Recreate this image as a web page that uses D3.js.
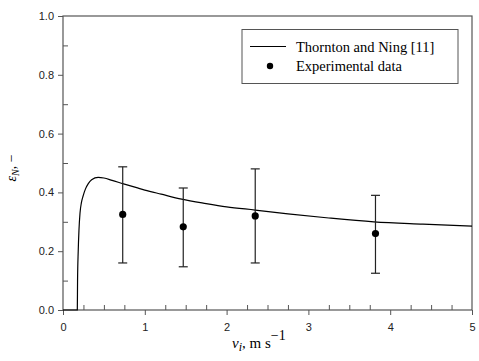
<!DOCTYPE html>
<html>
<head>
<meta charset="utf-8">
<script src="https://cdn.jsdelivr.net/npm/d3@7"></script>
<style>
  body { margin: 0; background: #fff; }
  .tick text { font-family: "Liberation Sans", Arial, sans-serif; font-size: 11px; fill: #222; }
</style>
</head>
<body>
<script>
// model curve (x = vi, y = eps_N)
var modelX = [0, 0.175, 0.178, 0.186, 0.195, 0.208, 0.225, 0.248, 0.275, 0.309, 0.35, 0.43, 0.5, 0.6, 0.74, 0.9, 1.0, 1.2, 1.45, 1.75, 2.0, 2.35, 2.75, 3.25, 3.8, 4.4, 5.0];
var modelY = [0, 0, 0.10, 0.20, 0.27, 0.33, 0.365, 0.39, 0.412, 0.43, 0.443, 0.451, 0.449, 0.441, 0.429, 0.416, 0.408, 0.394, 0.377, 0.362, 0.351, 0.340, 0.327, 0.313, 0.300, 0.292, 0.285];

// experimental points with error bars
var expX = [0.73, 1.47, 2.35, 3.82];
var expY = [0.325, 0.283, 0.32, 0.26];
var expLo = [0.16, 0.147, 0.16, 0.125];
var expHi = [0.487, 0.415, 0.48, 0.39];

var xTicks = [0, 1, 2, 3, 4, 5];
var yTicks = [0.0, 0.2, 0.4, 0.6, 0.8, 1.0];

var margin = {left: 63, top: 16, right: 7, bottom: 51},
    width = 479 - margin.left - margin.right,
    height = 361 - margin.top - margin.bottom;

var svg = d3.select("body").append("svg")
    .attr("width", 479)
    .attr("height", 361);

var g = svg.append("g")
    .attr("transform", "translate(" + margin.left + "," + margin.top + ")");

var x = d3.scaleLinear().domain([0, 5]).range([0, width]);
var y = d3.scaleLinear().domain([0, 1]).range([height, 0]);

var axisColor = "#555";

// minor ticks (inside)
g.append("g")
    .attr("transform", "translate(0," + height + ")")
    .call(d3.axisTop(x).tickValues(d3.range(0.25, 5, 0.25).filter(d => Math.abs(d % 1) > 0.01)).tickSize(5).tickFormat(""))
    .call(a => a.select(".domain").remove())
    .selectAll("line").attr("stroke", axisColor);
g.append("g")
    .call(d3.axisRight(y).tickValues(d3.range(0.1, 1, 0.2)).tickSize(5).tickFormat(""))
    .call(a => a.select(".domain").remove())
    .selectAll("line").attr("stroke", axisColor);

// major axes
var xa = g.append("g")
    .attr("transform", "translate(0," + height + ")")
    .call(d3.axisBottom(x).tickValues(xTicks).tickSize(5).tickPadding(8).tickFormat(d3.format("d")));
var ya = g.append("g")
    .call(d3.axisLeft(y).tickValues(yTicks).tickSize(5).tickPadding(4).tickFormat(d3.format(".1f")));
[xa, ya].forEach(function(a) {
    a.selectAll("line").attr("stroke", axisColor);
    a.select(".domain").remove();
});

// frame
g.append("rect")
    .attr("width", width).attr("height", height)
    .attr("fill", "none")
    .attr("stroke", axisColor)
    .attr("stroke-width", 1.2);

// model line
var line = d3.line()
    .x((d, i) => x(modelX[i]))
    .y((d, i) => y(modelY[i]))
    .curve(d3.curveMonotoneX);
g.append("path")
    .datum(modelX)
    .attr("d", line)
    .attr("fill", "none")
    .attr("stroke", "#000")
    .attr("stroke-width", 1.2);

// error bars
var bars = g.selectAll(".err")
    .data(expX)
    .enter().append("g")
    .attr("class", "err")
    .attr("stroke", "#222")
    .attr("stroke-width", 1.2);
bars.append("line")
    .attr("x1", d => x(d)).attr("x2", d => x(d))
    .attr("y1", (d, i) => y(expLo[i])).attr("y2", (d, i) => y(expHi[i]));
bars.append("line")
    .attr("x1", d => x(d) - 4.5).attr("x2", d => x(d) + 4.5)
    .attr("y1", (d, i) => y(expLo[i])).attr("y2", (d, i) => y(expLo[i]));
bars.append("line")
    .attr("x1", d => x(d) - 4.5).attr("x2", d => x(d) + 4.5)
    .attr("y1", (d, i) => y(expHi[i])).attr("y2", (d, i) => y(expHi[i]));

g.selectAll(".dot")
    .data(expX)
    .enter().append("circle")
    .attr("class", "dot")
    .attr("cx", d => x(d))
    .attr("cy", (d, i) => y(expY[i]))
    .attr("r", 3.6)
    .attr("fill", "#000");

// legend
var lg = svg.append("g").attr("transform", "translate(242,29.5)");
lg.append("rect")
    .attr("width", 216).attr("height", 54)
    .attr("fill", "#fff")
    .attr("stroke", axisColor)
    .attr("stroke-width", 1);
lg.append("line")
    .attr("x1", 8).attr("x2", 44).attr("y1", 17).attr("y2", 17)
    .attr("stroke", "#000").attr("stroke-width", 1.2);
lg.append("circle")
    .attr("cx", 28).attr("cy", 36.5).attr("r", 3.2).attr("fill", "#000");
lg.selectAll("text")
    .data(["Thornton and Ning [11]", "Experimental data"])
    .enter().append("text")
    .attr("x", 54)
    .attr("y", (d, i) => 22 + i * 19.5)
    .attr("font-family", "Liberation Serif, Times New Roman, serif")
    .attr("font-size", 14.5)
    .attr("fill", "#000")
    .text(d => d);

// axis titles
var xt = svg.append("text")
    .attr("x", 232).attr("y", 348)
    .attr("font-family", "Liberation Serif, Times New Roman, serif")
    .attr("font-size", 15)
    .attr("fill", "#000");
xt.append("tspan").attr("font-style", "italic").text("v");
xt.append("tspan").attr("font-style", "italic").attr("font-size", 12).attr("dy", 3).text("i");
xt.append("tspan").attr("dy", -3).text(", m s");
xt.append("tspan").attr("font-size", 14).attr("dy", -8).text("\u22121");

var yt = svg.append("text")
    .attr("transform", "translate(16,168) rotate(-90)")
    .attr("text-anchor", "middle")
    .attr("font-family", "Liberation Serif, Times New Roman, serif")
    .attr("font-size", 14)
    .attr("fill", "#000");
yt.append("tspan").attr("font-style", "italic").text("\u03b5");
yt.append("tspan").attr("font-style", "italic").attr("font-size", 10).attr("dy", 3).text("N");
yt.append("tspan").attr("dy", -3).text(", \u2212");
</script>
</body>
</html>
